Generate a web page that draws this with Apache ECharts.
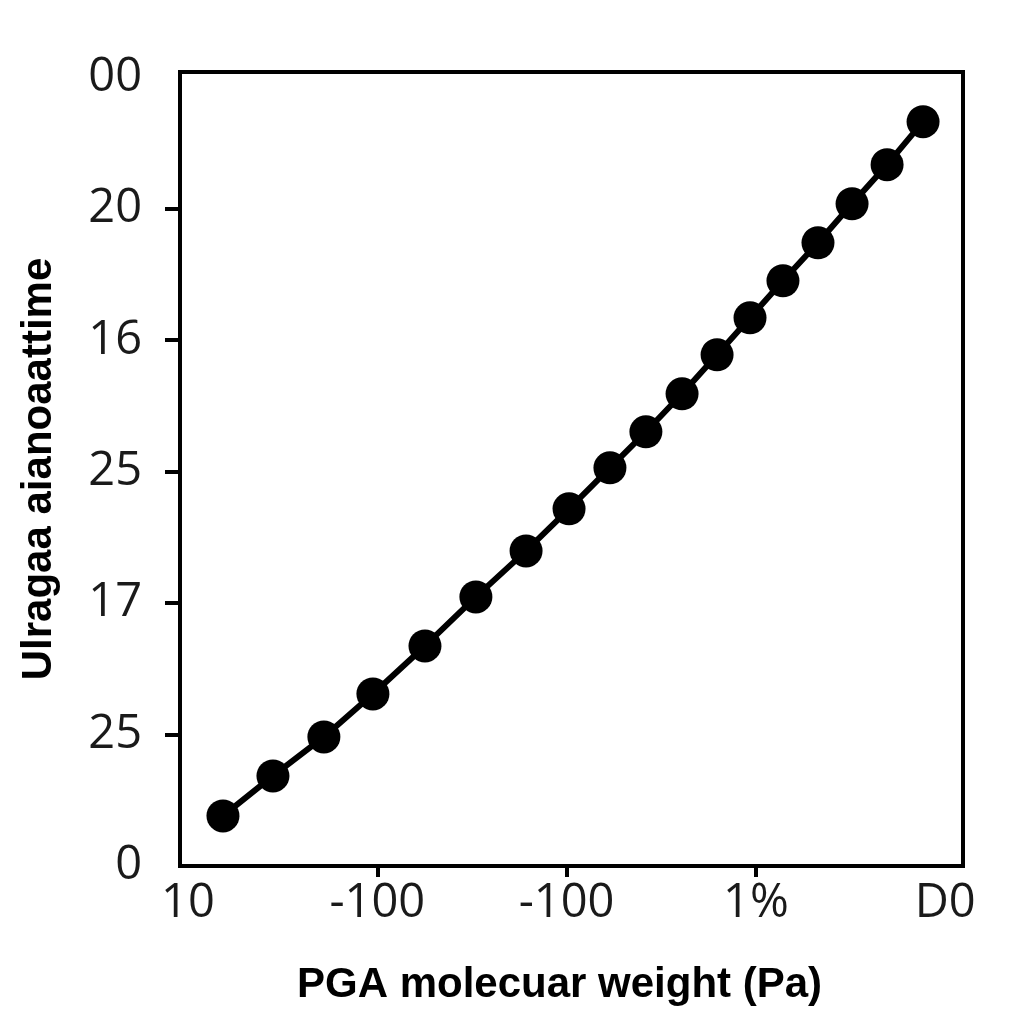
<!DOCTYPE html>
<html>
<head>
<meta charset="utf-8">
<title>PGA chart</title>
<script src="https://cdn.jsdelivr.net/npm/echarts@6/dist/echarts.min.js"></script>
<style>
  html, body { margin: 0; padding: 0; background: #fff; }
  #chart { width: 1024px; height: 1024px; }
</style>
</head>
<body>
<div id="chart"></div>
<script>
  // tick labels (as printed on the figure)
  var xLabels = ['10', '-100', '-100', '1%', 'D0'];
  var yLabels = ['0', '25', '17', '25', '16', '20', '00'];

  // series values (axis units = tick index)
  var xValues = [0.185, 0.449, 0.718, 0.977, 1.252, 1.521, 1.786, 2.013, 2.229,
                 2.419, 2.610, 2.795, 2.969, 3.143, 3.328, 3.508, 3.693, 3.883];
  var yValues = [0.381, 0.685, 0.982, 1.309, 1.674, 2.047, 2.397, 2.717, 3.029,
                 3.303, 3.592, 3.889, 4.170, 4.452, 4.741, 5.038, 5.335, 5.662];

  var xName = 'PGA molecuar weight (Pa)';
  var yName = 'Ulragaa aianoaattime';

  var seriesData = xValues.map(function (x, i) {
    return [x, yValues[i]];
  });

  var chart = echarts.init(document.getElementById('chart'), null, { renderer: 'canvas' });

  var labelFont = {
    fontFamily: 'Open Sans',
    fontSize: 47,
    color: '#1a1a1a'
  };

  chart.setOption({
    backgroundColor: '#fff',
    animation: false,
    grid: {
      left: 180,
      right: 61,
      top: 72,
      bottom: 158,
      show: true,
      borderColor: '#000',
      borderWidth: 4,
      backgroundColor: 'transparent'
    },
    xAxis: {
      type: 'value',
      min: -0.042,
      max: 4.094,
      splitLine: { show: false },
      axisLine: { show: true, onZero: false, lineStyle: { color: '#000', width: 4 } },
      axisTick: {
        show: true,
        length: 11,
        customValues: [1, 2, 3],
        lineStyle: { color: '#000', width: 4 }
      },
      axisLabel: Object.assign({
        margin: 14,
        customValues: [0, 1, 2, 3, 4],
        formatter: function (v) {
          return xLabels[Math.round(v)];
        }
      }, labelFont),
      name: xName,
      nameLocation: 'middle',
      nameGap: 98,
      nameTextStyle: {
        fontFamily: 'Liberation Sans',
        fontWeight: 'bold',
        fontSize: 42,
        color: '#000',
        padding: [0, 24, 0, 0]
      }
    },
    yAxis: {
      type: 'value',
      min: 0,
      max: 6.04,
      splitLine: { show: false },
      axisLine: { show: true, onZero: false, lineStyle: { color: '#000', width: 4 } },
      axisTick: {
        show: true,
        length: 15,
        customValues: [1, 2, 3, 4, 5],
        lineStyle: { color: '#000', width: 4 }
      },
      axisLabel: Object.assign({
        margin: 38,
        customValues: [0, 1, 2, 3, 4, 5, 6],
        formatter: function (v) {
          return yLabels[Math.round(v)];
        }
      }, labelFont),
      name: yName,
      nameLocation: 'middle',
      nameGap: 120,
      nameTextStyle: {
        fontFamily: 'Liberation Sans',
        fontWeight: 'bold',
        fontSize: 42,
        color: '#000'
      }
    },
    series: [{
      type: 'line',
      data: seriesData,
      symbol: 'circle',
      symbolSize: 33,
      itemStyle: { color: '#000' },
      lineStyle: { color: '#000', width: 6 },
      z: 3
    }]
  });
</script>
</body>
</html>
